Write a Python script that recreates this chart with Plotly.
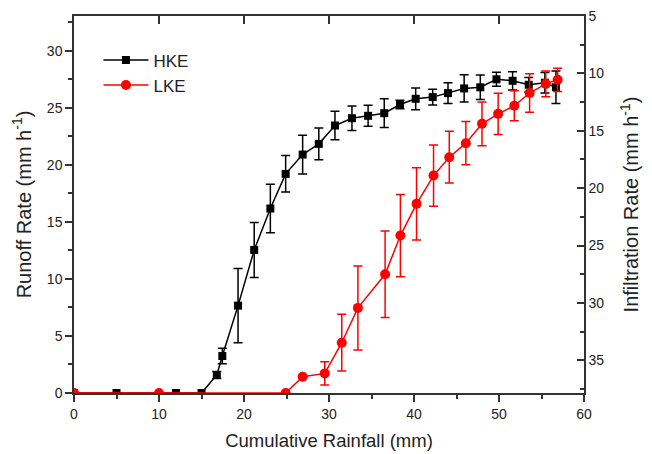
import plotly.graph_objects as go

# HKE (runoff rate, mm/h)
hke_x = [0, 5.0, 12.0, 15.0, 16.8, 17.45, 19.3, 21.2, 23.1, 24.9, 26.9, 28.8, 30.7, 32.7, 34.6, 36.5,
         38.35, 40.2, 42.2, 44.0, 45.9, 47.8, 49.7, 51.6, 53.5, 55.4, 56.7]
hke_y = [0, 0, 0, 0, 1.58, 3.24, 7.66, 12.54, 16.17, 19.21, 20.9, 21.84, 23.45, 24.09, 24.3, 24.53,
         25.29, 25.79, 25.94, 26.29, 26.7, 26.8, 27.5, 27.37, 27.02, 27.2, 26.8]
hke_err = [0, 0, 0, 0, 0.3, 0.68, 3.25, 2.41, 2.12, 1.6, 1.7, 1.4, 1.24, 1.07, 0.92, 1.26,
           0.38, 0.95, 0.69, 0.9, 1.2, 1.07, 0.61, 0.8, 0.63, 0.9, 1.43]

# LKE (runoff rate, mm/h)
lke_x = [0, 10.0, 24.9, 26.9, 29.5, 31.5, 33.4, 36.6, 38.4, 40.3, 42.3, 44.15, 46.1, 48.0, 49.9,
         51.8, 53.6, 55.5, 56.9]
lke_y = [0, 0, 0, 1.43, 1.72, 4.41, 7.46, 10.41, 13.8, 16.58, 19.06, 20.67, 21.9, 23.6, 24.47,
         25.18, 26.3, 27.1, 27.46]
lke_err = [0, 0, 0, 0, 1.02, 2.49, 3.68, 3.8, 3.6, 3.17, 2.69, 2.27, 1.9, 1.92, 1.8,
           1.32, 1.68, 1.13, 1.02]

x_ticks = [0, 10, 20, 30, 40, 50, 60]
left_ticks = [0, 5, 10, 15, 20, 25, 30]
right_ticks = [5, 10, 15, 20, 25, 30, 35]

FONT = "Liberation Sans, Arial, sans-serif"
AX = "#333333"

fig = go.Figure()
fig.add_trace(go.Scatter(
    x=hke_x, y=hke_y, name="HKE", mode="lines+markers",
    line=dict(color="black", width=1.5),
    marker=dict(symbol="square", size=8, color="black"),
    error_y=dict(type="data", array=hke_err, color="black", thickness=1.5, width=4.5),
))
fig.add_trace(go.Scatter(
    x=lke_x, y=lke_y, name="LKE", mode="lines+markers",
    line=dict(color="#ff0000", width=1.5),
    marker=dict(symbol="circle", size=10, color="#ff0000"),
    error_y=dict(type="data", array=lke_err, color="#ff0000", thickness=1.5, width=4.5),
))
# invisible helper traces for right and top axes
fig.add_trace(go.Scatter(x=[30], y=[20], yaxis="y2", mode="markers",
                         marker=dict(opacity=0), showlegend=False, hoverinfo="skip"))
fig.add_trace(go.Scatter(x=[30], y=[20], xaxis="x2", mode="markers",
                         marker=dict(opacity=0), showlegend=False, hoverinfo="skip"))

axis_line = dict(showline=True, linecolor=AX, linewidth=1.5, showgrid=False, zeroline=False,
                 automargin=False, ticklabeloverflow="allow",
                 tickfont=dict(size=14, color="#222222"))

# the page body adds an 8px offset, so margins are compensated for it
fig.update_layout(
    width=652, height=454,
    margin=dict(l=66, r=76, t=8, b=69, autoexpand=False),
    paper_bgcolor="white", plot_bgcolor="white",
    font=dict(family=FONT, size=14, color="#222222"),
    showlegend=True,
    legend=dict(x=0.048, y=0.93, xanchor="left", yanchor="top", bgcolor="rgba(0,0,0,0)",
                font=dict(size=17, family=FONT), itemwidth=45, tracegroupgap=0),
    xaxis=dict(range=[0, 60], tickvals=x_ticks, ticks="outside", ticklen=7, tickwidth=1.5,
               tickcolor=AX,
               minor=dict(dtick=5, tick0=0, ticks="outside", ticklen=4, tickwidth=1.5, tickcolor=AX),
               title=dict(text="Cumulative Rainfall (mm)", font=dict(size=18.5), standoff=14),
               **axis_line),
    xaxis2=dict(range=[0, 60], overlaying="x", side="top", tickvals=x_ticks, ticks="inside",
                ticklen=8, tickwidth=1.5, tickcolor=AX, showticklabels=False, **axis_line),
    yaxis=dict(range=[0, 33.05], tickvals=left_ticks, ticks="outside", ticklen=7, tickwidth=1.5,
               tickcolor=AX,
               minor=dict(dtick=2.5, tick0=0, ticks="outside", ticklen=4, tickwidth=1.5, tickcolor=AX),
               title=dict(text="Runoff Rate (mm h<sup>-1</sup>)", font=dict(size=20), standoff=10),
               **axis_line),
    yaxis2=dict(range=[37.85, 5], overlaying="y", side="right", tickvals=right_ticks, ticks="inside",
                ticklen=7, tickwidth=1.5, tickcolor=AX,
                minor=dict(dtick=2.5, tick0=0, ticks="inside", ticklen=4, tickwidth=1.5, tickcolor=AX),
                title=dict(text="Infiltration Rate (mm h<sup>-1</sup>)", font=dict(size=20), standoff=21),
                **axis_line),
)

fig.write_html("out.html")
